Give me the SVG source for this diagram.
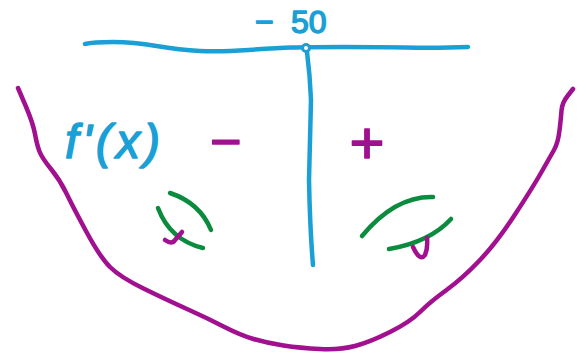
<svg xmlns="http://www.w3.org/2000/svg" width="584" height="355" viewBox="0 0 584 355">
<style>
.s{fill:none;stroke-width:4.5;stroke-linecap:round;stroke-linejoin:round}
.b{stroke:#1aa0d6}
.p{stroke:#a1108f}
.g{stroke:#0b8b3d}
.tb{fill:#1aa0d6;stroke:#1aa0d6;stroke-width:1.5;stroke-linejoin:round;font-family:"Liberation Sans",Arial,sans-serif}
.tp{fill:#a1108f;stroke:#a1108f;stroke-width:1.5;stroke-linejoin:round;font-family:"Liberation Sans",Arial,sans-serif}
</style>
<rect width="584" height="355" fill="#ffffff"/>
<g id="curve">
<path class="s p" d="M18,88 L25.5,105.5 Q33,123 35,134 Q37,145 39.5,151.5 Q42,158 51,169 Q60,180 66.5,193.5 Q73,207 86.5,232 Q100,257 110,267 Q120,277 143.5,288.5 Q167,300 187,309 Q207,318 223.5,326.5 Q240,335 253.5,339 Q267,343 283.5,345.5 Q300,348 320,349 Q340,350 355,346 Q370,342 390,332 Q410,322 420,312 Q430,302 446.5,290 Q463,278 480,260 Q497,242 515,214.5 Q533,187 541.5,172 Q550,157 554,150 Q558,143 559.5,130.5 Q561,118 561.5,110.5 Q562,103 567.5,96 L573,89"/>
</g>
<g id="axis">
<path class="s b" d="M85,44 Q93,42 113,42 Q133,42 156.5,46 Q180,50 200,51 Q220,52 248.5,50 Q277,48 291.5,47.5 Q306,47 343,47 Q380,47 405,47.5 Q430,48 449,47.5 L468,47"/>
<path class="s b" d="M307,52 Q310,75 311,100 Q310,140 309,180 Q310,230 313,265"/>
<circle class="b" cx="306" cy="48" r="3.5" fill="#ffffff" stroke-width="3"/>
<text class="tb" y="33" font-size="32"><tspan x="255">− </tspan><tspan x="291">50</tspan></text>
</g>
<g id="label-fprime">
<text class="tb" x="65" y="158" font-size="48" font-style="italic" textLength="95" lengthAdjust="spacing">f'(x)</text>
</g>
<g id="left-region">
<text class="tp" x="210" y="160" font-size="54">−</text>
<path class="s g" d="M170,193 Q200,203 211,230"/>
<path class="s g" d="M158,208 Q170,240 203,248"/>
<path class="s p" d="M165,240 Q172,245 175,240 L182,232"/>
</g>
<g id="right-region">
<text class="tp" x="367" y="163" font-size="60" text-anchor="middle">+</text>
<path class="s g" d="M362,236 Q395,196 433,197"/>
<path class="s g" d="M389,249 Q430,242 451,219"/>
<path class="s p" d="M413,247 Q420,262 425,255 Q428,248 427,238"/>
</g>
</svg>
